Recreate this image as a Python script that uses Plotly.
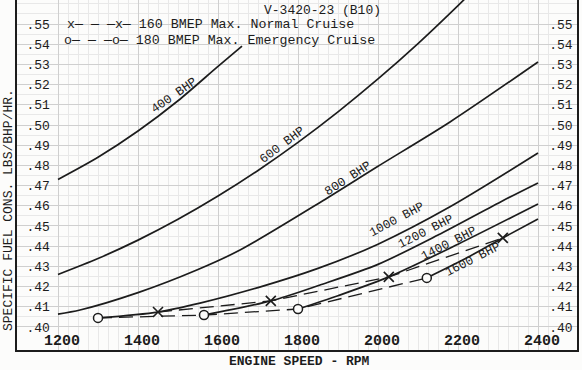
import plotly.graph_objects as go

FONT = "Liberation Mono, Courier New, monospace"
INK = "#1c1c1c"

# ---- data (engine speed rpm, specific fuel consumption lbs/bhp/hr) ----
rpm_400 = [1200, 1300, 1400, 1500, 1600, 1660]
sfc_400 = [0.473, 0.484, 0.497, 0.512, 0.529, 0.539]

rpm_600 = [1200, 1300, 1400, 1500, 1600, 1700, 1800, 1900, 2000, 2100, 2200, 2220]
sfc_600 = [0.4260, 0.4339, 0.4430, 0.4533, 0.4648, 0.4775, 0.4914, 0.5065, 0.5228, 0.5403, 0.5591, 0.5630]

rpm_800 = [1200, 1255, 1400, 1547, 1655, 1862, 1997, 2180, 2400]
sfc_800 = [0.4064, 0.4084, 0.4170, 0.4282, 0.4381, 0.4625, 0.4792, 0.5015, 0.5312]

rpm_1000 = [1300, 1450, 1555, 1700, 1850, 2000, 2180, 2400]
sfc_1000 = [0.4045, 0.4074, 0.4118, 0.4195, 0.4290, 0.4410, 0.4595, 0.4861]

rpm_1200 = [1565, 1732, 1855, 2000, 2150, 2312, 2400]
sfc_1200 = [0.4059, 0.4129, 0.4208, 0.4310, 0.4455, 0.4625, 0.4713]

rpm_1400 = [1800, 1900, 2027, 2200, 2400]
sfc_1400 = [0.4089, 0.4155, 0.4248, 0.4410, 0.4609]

rpm_1600 = [2122, 2220, 2312, 2400]
sfc_1600 = [0.4243, 0.4340, 0.4441, 0.4535]

# BMEP limit lines
rpm_160 = [1450, 1732, 2027, 2312]
sfc_160 = [0.4074, 0.4129, 0.4248, 0.4441]
rpm_180 = [1300, 1565, 1800, 2122]
sfc_180 = [0.4045, 0.4059, 0.4089, 0.4243]

x_ticks = [1200, 1400, 1600, 1800, 2000, 2200, 2400]
y_ticks = [0.40, 0.41, 0.42, 0.43, 0.44, 0.45, 0.46, 0.47, 0.48, 0.49, 0.50, 0.51, 0.52, 0.53, 0.54, 0.55]
y_tick_text = ["." + f"{v:.2f}".split(".")[1] for v in y_ticks]

curve_names = ["400 BHP", "600 BHP", "800 BHP", "1000 BHP", "1200 BHP", "1400 BHP", "1600 BHP"]
curve_rpm = [rpm_400, rpm_600, rpm_800, rpm_1000, rpm_1200, rpm_1400, rpm_1600]
curve_sfc = [sfc_400, sfc_600, sfc_800, sfc_1000, sfc_1200, sfc_1400, sfc_1600]

fig = go.Figure()
for name, xs, ys in zip(curve_names, curve_rpm, curve_sfc):
    fig.add_trace(go.Scatter(x=xs, y=ys, mode="lines", name=name, showlegend=False,
                             hoverinfo="skip",
                             line=dict(color=INK, width=1.7, shape="spline", smoothing=0.8)))

fig.add_trace(go.Scatter(x=rpm_160, y=sfc_160, mode="lines+markers",
                         name="160 BMEP Max. Normal Cruise", showlegend=False,
                         line=dict(color=INK, width=1.3, dash="14px,7px"),
                         marker=dict(symbol="x-thin", size=10, color=INK,
                                     line=dict(color=INK, width=1.6))))
fig.add_trace(go.Scatter(x=rpm_180, y=sfc_180, mode="lines+markers",
                         name="180 BMEP Max. Emergency Cruise", showlegend=False,
                         line=dict(color=INK, width=1.3, dash="14px,7px"),
                         marker=dict(symbol="circle", size=9, color="#fcfcfb",
                                     line=dict(color=INK, width=1.5))))
# carrier for the right-hand axis (invisible copy)
fig.add_trace(go.Scatter(x=rpm_800, y=sfc_800, yaxis="y2", mode="lines",
                         line=dict(width=0, color="rgba(0,0,0,0)"),
                         showlegend=False, hoverinfo="skip"))

yr = [0.38861, 0.56188]
grid_major = "#cfcfcf"
grid_minor = "#e8e8e8"

fig.update_layout(
    width=582, height=370,
    margin=dict(l=17, r=5, t=0, b=20),
    paper_bgcolor="#fcfcfb", plot_bgcolor="#fcfcfb",
    font=dict(family=FONT, color=INK, size=13),
    showlegend=False,
    xaxis=dict(range=[1097.5, 2497.5], tickmode="array", tickvals=x_ticks,
               ticktext=[str(v) for v in x_ticks], ticklabelposition="inside",
               ticklabelshift=4, ticklabelstandoff=2,
               ticks="", showline=True, linecolor=INK, linewidth=2,
               showgrid=True, gridcolor=grid_major, gridwidth=1, zeroline=False,
               tickfont=dict(family=FONT, size=15, color=INK, weight="bold"),
               minor=dict(tickmode="linear", tick0=1200, dtick=25, showgrid=True,
                          gridcolor=grid_minor, ticks="")),
    yaxis=dict(range=yr, tickmode="array", tickvals=y_ticks, ticktext=y_tick_text,
               ticklabelposition="inside", ticks="", showline=True, linecolor=INK,
               linewidth=2, showgrid=True, gridcolor=grid_major, zeroline=False,
               ticklabelstandoff=9,
               tickfont=dict(family=FONT, size=13, color=INK),
               minor=dict(tickmode="linear", tick0=0.40, dtick=0.005, showgrid=True,
                          gridcolor=grid_minor, ticks="")),
    yaxis2=dict(range=yr, overlaying="y", side="right", tickmode="array",
                tickvals=y_ticks, ticktext=y_tick_text, ticklabelposition="inside",
                ticks="", showline=True, linecolor=INK, linewidth=2, showgrid=False,
                zeroline=False, ticklabelstandoff=4,
                tickfont=dict(family=FONT, size=13, color=INK)),
)

ann = []
# header
ann.append(dict(text="V-3420-23 (B10)", xref="paper", yref="paper", x=0.546, y=0.971,
                xanchor="center", yanchor="middle",
                showarrow=False, font=dict(family=FONT, size=13, color=INK)))
# typed legend
ann.append(dict(text="x\u2014 \u2014 \u2014x\u2014 160 BMEP Max. Normal Cruise", xref="paper",
                yref="paper", x=0.0857, y=0.9314, xanchor="left", yanchor="middle",
                showarrow=False, font=dict(family=FONT, size=13.3, color=INK)))
ann.append(dict(text="o\u2014 \u2014 \u2014o\u2014 180 BMEP Max. Emergency Cruise", xref="paper",
                yref="paper", x=0.080, y=0.883, xanchor="left", yanchor="middle",
                showarrow=False, font=dict(family=FONT, size=13.3, color=INK)))
# axis titles
ann.append(dict(text="<b>ENGINE SPEED - RPM</b>", xref="paper", yref="paper", x=0.505,
                y=-0.034, xanchor="center", yanchor="middle", showarrow=False,
                font=dict(family=FONT, size=13, color=INK)))
ann.append(dict(text="SPECIFIC FUEL CONS. LBS/BHP/HR.", xref="paper", yref="paper",
                x=-0.0161, y=0.40, xanchor="center", yanchor="middle", textangle=-90,
                showarrow=False, font=dict(family=FONT, size=13, color=INK)))
# curve labels
label_pos = [(1490, 0.5144, -35), (1762, 0.4901, -37), (1925, 0.4733, -33),
             (2047, 0.4530, -28), (2120, 0.4470, -27), (2177, 0.4411, -27),
             (2237, 0.4332, -27)]
for name, (lx, ly, ang) in zip(curve_names, label_pos):
    ann.append(dict(text=name, x=lx, y=ly, xref="x", yref="y", textangle=ang,
                    xanchor="center", yanchor="middle",
                    showarrow=False, font=dict(family=FONT, size=12.5, color=INK)))
fig.update_layout(annotations=ann)

fig.write_html(
    "out.html",
    config={"displayModeBar": False},
    post_script="document.body.style.margin='0';document.body.style.overflow='hidden';",
)
